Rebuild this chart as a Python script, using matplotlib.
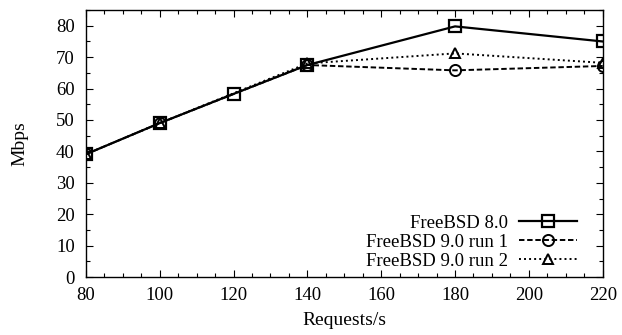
import matplotlib
matplotlib.use("Agg")
import matplotlib.pyplot as plt
from matplotlib.ticker import MultipleLocator

plt.rcParams['font.family'] = ['Liberation Serif', 'DejaVu Serif']

# requests per second (x) and throughput in Mbps (y)
req_80 = [80, 100, 120, 140, 180, 220]
mbps_80 = [39.1, 49.0, 58.3, 67.5, 79.8, 75.0]

req_90 = [80, 100, 140, 180, 220]
mbps_90_run1 = [39.1, 49.0, 67.5, 65.8, 67.2]
mbps_90_run2 = [39.1, 49.0, 68.0, 71.2, 68.2]

labels = ["FreeBSD 8.0", "FreeBSD 9.0 run 1", "FreeBSD 9.0 run 2"]

fig = plt.figure(figsize=(6.22, 3.35), dpi=100)
ax = fig.add_axes([0.138, 0.173, 0.831, 0.797])

ax.plot(req_90, mbps_90_run2, color="black", lw=1.4, linestyle=(0, (1, 1.6)),
        marker="^", markersize=7.5, markerfacecolor="none", markeredgewidth=1.4,
        label=labels[2])
ax.plot(req_90, mbps_90_run1, color="black", lw=1.4, linestyle=(0, (2.8, 1.4)),
        marker="o", markersize=8, markerfacecolor="none", markeredgewidth=1.4,
        label=labels[1])
ax.plot(req_80, mbps_80, color="black", lw=1.6, linestyle="-",
        marker="s", markersize=9, markerfacecolor="none", markeredgewidth=1.6,
        label=labels[0])

ax.set_xlim(80, 220)
ax.set_ylim(0, 85)
ax.xaxis.set_major_locator(MultipleLocator(20))
ax.xaxis.set_minor_locator(MultipleLocator(5))
ax.yaxis.set_major_locator(MultipleLocator(10))
ax.yaxis.set_minor_locator(MultipleLocator(5))
ax.tick_params(which="both", direction="in", top=True, right=True,
               labelsize=13.5, width=0.8)
ax.tick_params(which="major", length=5)
ax.tick_params(which="minor", length=3)
ax.tick_params(axis="x", which="major", pad=7)
ax.tick_params(axis="y", which="major", pad=8)
for s in ax.spines.values():
    s.set_linewidth(1.0)

ax.set_xlabel("Requests/s", fontsize=14, labelpad=6)
ax.set_ylabel("Mbps", fontsize=14, labelpad=20)

handles, labs = ax.get_legend_handles_labels()
ax.legend(handles[::-1], labs[::-1], loc="lower right", frameon=False,
          markerfirst=False, fontsize=13.5, handlelength=3.1, handletextpad=0.6,
          labelspacing=0.1, borderpad=0.2, borderaxespad=0.0,
          bbox_to_anchor=(0.958, 0.014))

fig.savefig("out.png", dpi=100)
